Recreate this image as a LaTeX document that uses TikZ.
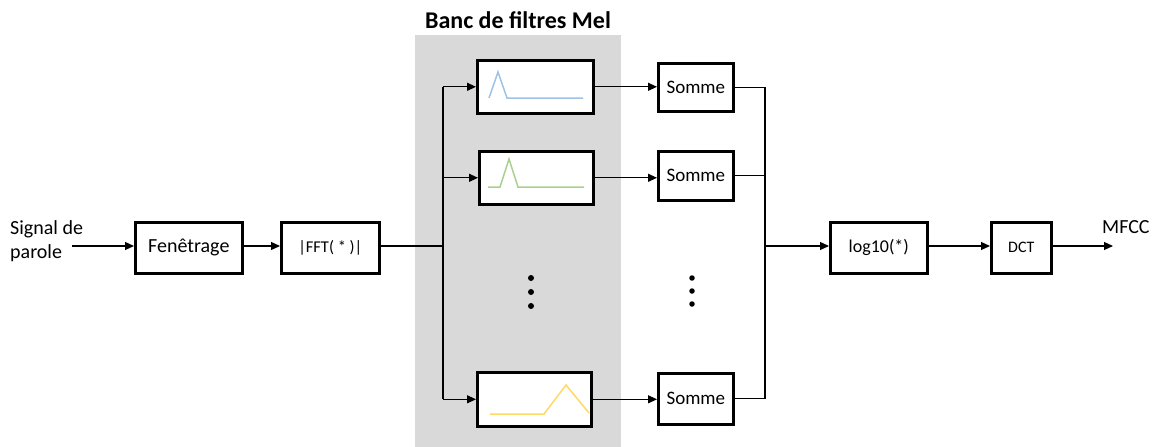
\documentclass[tikz,border=0pt]{standalone}
\usepackage{fontspec}
\setmainfont{Carlito}
\usetikzlibrary{arrows.meta}
\definecolor{bankgray}{HTML}{D9D9D9}
\definecolor{melblue}{HTML}{9DC3E6}
\definecolor{melgreen}{HTML}{A9D18E}
\definecolor{melyellow}{HTML}{FFD966}
\tikzset{
  blockbox/.style={draw=black, line width=2.6pt, fill=white, inner sep=0pt, anchor=north west},
  link/.style={line width=1.2pt, draw=black},
  flow/.style={link, -{Triangle[length=9pt,width=8pt]}},
  dotmark/.style={circle, fill=black, inner sep=0pt, minimum size=6pt},
  curve/.style={line width=1.5pt, line join=miter},
  lbl/.style={font=\fontsize{19}{21}\selectfont, inner sep=0pt}
}
\begin{document}
\begin{tikzpicture}[x=1pt, y=-1pt]
  \useasboundingbox (0,0) rectangle (1159,447);
  % filter bank backdrop and title
  \fill[bankgray] (415,35) rectangle (621,447);
  \node[font=\fontsize{24}{26}\selectfont\bfseries, inner sep=0pt] (title) at (518,20) {Banc de filtres Mel};

  % input label
  \node[lbl, align=left, anchor=west, font=\fontsize{20}{24}\selectfont] (sig) at (10,241) {Signal de\\parole};
  \coordinate (in) at (72,246);

  % processing chain
  \node[blockbox, minimum width=107pt, minimum height=51pt] (win) at (134,221) {};
  \node[lbl, font=\fontsize{20}{22}\selectfont] at (win.center) {Fenêtrage};
  \node[blockbox, minimum width=98pt, minimum height=51pt] (fft) at (280,221) {};
  \node[lbl, font=\fontsize{16.5}{18}\selectfont] at (fft.center) {|FFT( * )|};

  % mel filters
  \node[blockbox, minimum width=116pt, minimum height=53pt] (f1) at (476,59) {};
  \node[blockbox, minimum width=114pt, minimum height=53pt] (f2) at (478,150) {};
  \node[blockbox, minimum width=114pt, minimum height=54pt] (f3) at (476,371) {};
  \draw[melblue, curve] (489,98) -- (498,72) -- (507,98) -- (583,98);
  \draw[melgreen, curve] (488,187) -- (500,187) -- (509,159) -- (518,187) -- (584,187);
  \draw[melyellow, curve] (490,414) -- (544,414) -- (566,385) -- (589,413);
  \node[dotmark] (d1) at (531,278) {};
  \node[dotmark] (d2) at (531,292) {};
  \node[dotmark] (d3) at (531,306) {};

  % summation blocks
  \node[blockbox, minimum width=75pt, minimum height=48pt] (s1) at (657,62) {};
  \node[lbl] at (s1.center) {Somme};
  \node[blockbox, minimum width=75pt, minimum height=49pt] (s2) at (657,150) {};
  \node[lbl] at (s2.center) {Somme};
  \node[blockbox, minimum width=75pt, minimum height=51pt] (s3) at (657,372) {};
  \node[lbl] at (s3.center) {Somme};
  \node[dotmark, minimum size=5.5pt] (e1) at (692,278) {};
  \node[dotmark, minimum size=5.5pt] (e2) at (692,291) {};
  \node[dotmark, minimum size=5.5pt] (e3) at (692,304) {};

  % log and DCT
  \node[blockbox, minimum width=97pt, minimum height=51pt] (log) at (829,221) {};
  \node[lbl, font=\fontsize{18}{20}\selectfont] at (log.center) {log10(*)};
  \node[blockbox, minimum width=60pt, minimum height=51pt] (dct) at (990,221) {};
  \node[lbl, font=\fontsize{16}{18}\selectfont] at (dct.center) {DCT};
  \coordinate (out) at (1113,246);
  \node[lbl, font=\fontsize{20}{22}\selectfont, anchor=west] (mfcc) at (1102,227) {MFCC};

  % splitting and merging buses
  \coordinate (split) at (443,246);
  \coordinate (merge) at (765,246);

  \draw[flow] (in) -- (win.west |- in);
  \draw[flow] (win.east |- in) -- (fft.west |- in);
  \draw[link] (fft.east |- split) -- (split);
  \draw[link] (split |- f1.west) -- (split |- f3.west);
  \draw[flow] (split |- f1.west) -- (f1.west);
  \draw[flow] (split |- f2.west) -- (f2.west);
  \draw[flow] (split |- f3.west) -- (f3.west);

  \draw[flow] (f1.east) -- (s1.west |- f1.east);
  \draw[flow] (f2.east) -- (s2.west |- f2.east);
  \draw[flow] (f3.east) -- (s3.west |- f3.east);

  \draw[link] (s1.east) -| (merge |- s1.east) -- (merge |- s3.east) -- (s3.east);
  \draw[link] (s2.east) -- (merge |- s2.east);
  \draw[flow] (merge) -- (log.west |- merge);
  \draw[flow] (log.east |- merge) -- (dct.west |- merge);
  \draw[flow] (dct.east |- merge) -- (out);
\end{tikzpicture}
\end{document}
